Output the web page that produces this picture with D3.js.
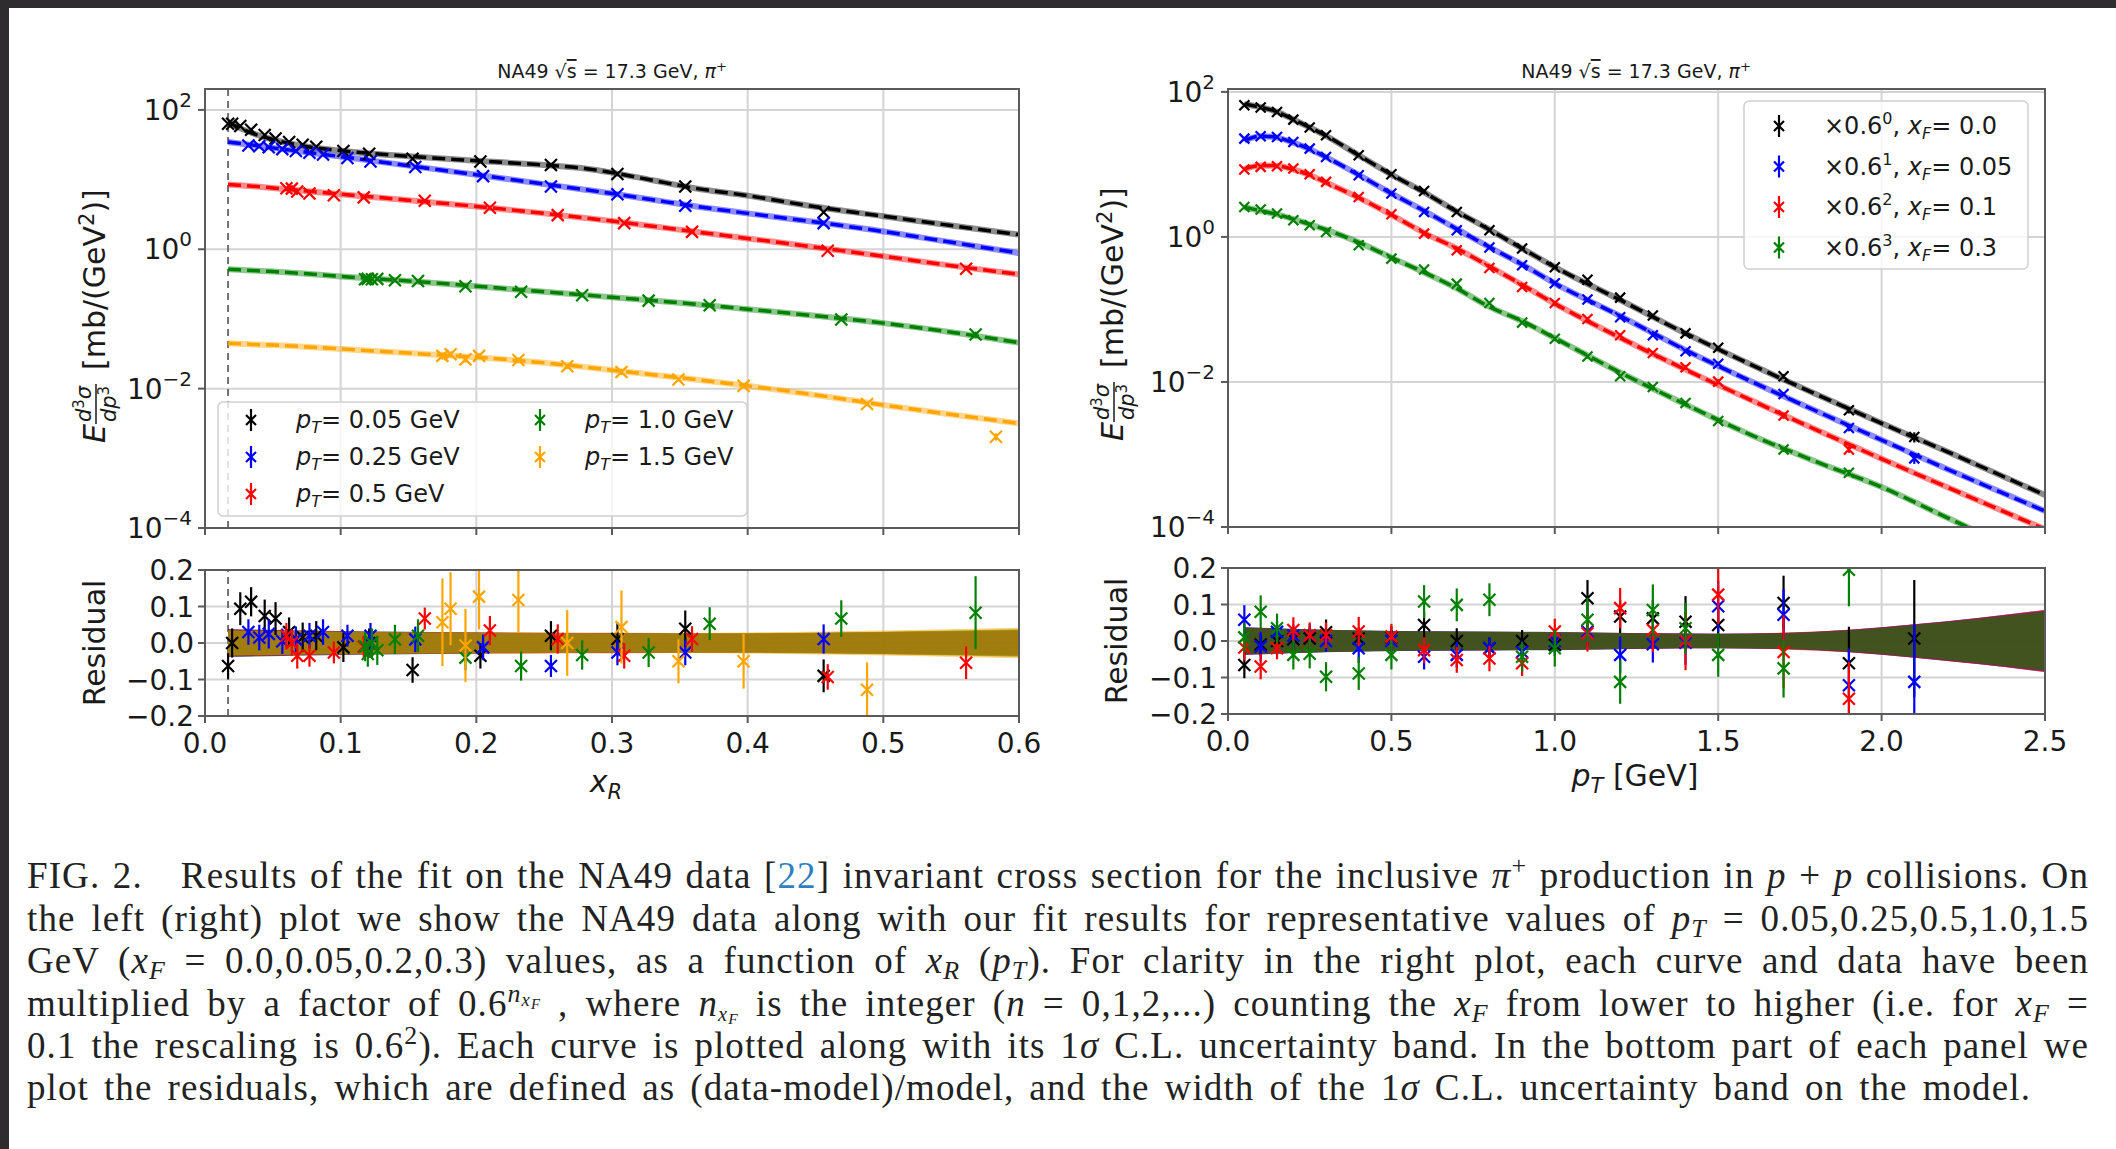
<!DOCTYPE html>
<html>
<head>
<meta charset="utf-8">
<script src="https://cdn.jsdelivr.net/npm/d3@7"></script>
<style>
  body { margin: 0; background: #ffffff; }
  svg { display: block; }
  text { font-family: "DejaVu Sans", sans-serif; fill: #1a1a1a; }
  .caption { font-family: "Liberation Serif", "DejaVu Serif", serif; font-size: 37px; fill: #222; }
</style>
</head>
<body>
<div id="chart"></div>
<script>
// ---------- data ----------

// left panel: cross section vs x_R for fixed pT (values are log10 of E d3sigma/dp3)
const leftPT = ["0.05", "0.25", "0.5", "1.0", "1.5"];
const leftColors = ["#000000", "#0000ff", "#ff0000", "#008000", "#ffa500"];

const xR_pt005 = [0.017, 0.020, 0.026, 0.034, 0.044, 0.052, 0.062, 0.072, 0.082, 0.102, 0.121, 0.153, 0.203, 0.255, 0.304, 0.354, 0.456];
const logE_pt005 = [1.80, 1.80, 1.77, 1.715, 1.64, 1.59, 1.54, 1.50, 1.47, 1.41, 1.37, 1.30, 1.26, 1.21, 1.08, 0.90, 0.53];
const res_pt005 = [-0.063, 0.0, 0.094, 0.113, 0.074, 0.067, 0.03, 0.016, 0.02, -0.012, 0.0, -0.074, -0.035, 0.02, 0.011, 0.039, -0.09];
const err_pt005 = [0.035, 0.04, 0.045, 0.04, 0.045, 0.045, 0.04, 0.04, 0.04, 0.04, 0.04, 0.035, 0.035, 0.04, 0.045, 0.05, 0.045];

const xR_pt025 = [0.032, 0.040, 0.047, 0.057, 0.067, 0.077, 0.087, 0.105, 0.122, 0.155, 0.205, 0.255, 0.304, 0.354, 0.456];
const logE_pt025 = [1.49, 1.478, 1.463, 1.437, 1.41, 1.386, 1.36, 1.31, 1.26, 1.18, 1.05, 0.90, 0.79, 0.625, 0.375];
const res_pt025 = [0.03, 0.015, 0.025, 0.005, 0.01, 0.02, 0.03, 0.02, 0.02, 0.01, -0.012, -0.063, -0.026, -0.026, 0.011];
const err_pt025 = [0.035, 0.035, 0.04, 0.035, 0.035, 0.035, 0.035, 0.03, 0.035, 0.035, 0.035, 0.03, 0.035, 0.035, 0.04];

const xR_pt05 = [0.060, 0.064, 0.068, 0.077, 0.095, 0.117, 0.162, 0.210, 0.260, 0.309, 0.359, 0.459, 0.561];
const logE_pt05 = [0.875, 0.87, 0.83, 0.80, 0.775, 0.745, 0.695, 0.595, 0.49, 0.375, 0.25, -0.02, -0.28];
const res_pt05 = [0.02, 0.0, -0.035, -0.035, -0.026, -0.01, 0.067, 0.034, 0.011, -0.035, 0.011, -0.093, -0.054];
const err_pt05 = [0.035, 0.035, 0.035, 0.03, 0.03, 0.03, 0.03, 0.04, 0.04, 0.035, 0.035, 0.035, 0.045];

const xR_pt10 = [0.118, 0.120, 0.123, 0.127, 0.140, 0.157, 0.192, 0.233, 0.278, 0.327, 0.372, 0.469, 0.568];
const logE_pt10 = [-0.43, -0.425, -0.43, -0.425, -0.445, -0.455, -0.532, -0.609, -0.66, -0.737, -0.803, -1.008, -1.223];
const res_pt10 = [-0.01, -0.03, 0.0, -0.02, 0.01, 0.02, -0.04, -0.063, -0.033, -0.026, 0.053, 0.067, 0.083];
const err_pt10 = [0.04, 0.035, 0.04, 0.04, 0.04, 0.045, 0.035, 0.04, 0.04, 0.04, 0.045, 0.05, 0.1];

const xR_pt15 = [0.175, 0.181, 0.192, 0.202, 0.231, 0.267, 0.307, 0.349, 0.397, 0.488, 0.583];
const logE_pt15 = [-1.53, -1.506, -1.58, -1.53, -1.59, -1.68, -1.76, -1.87, -1.96, -2.22, -2.69];
const res_pt15 = [0.057, 0.094, -0.007, 0.127, 0.118, 0.0, 0.044, -0.05, -0.05, -0.128, null];
const err_pt15 = [0.12, 0.1, 0.1, 0.09, 0.09, 0.09, 0.1, 0.06, 0.075, 0.075, 0.12];

// fitted model curves, left panel
const curveXL = [0.017, 0.025, 0.035, 0.05, 0.07, 0.1, 0.15, 0.2, 0.25, 0.28, 0.3, 0.33, 0.36, 0.4, 0.45, 0.5, 0.55, 0.6];
const curve_pt005 = [1.83, 1.745, 1.665, 1.575, 1.49, 1.415, 1.335, 1.27, 1.21, 1.16, 1.10, 0.99, 0.88, 0.77, 0.61, 0.475, 0.34, 0.21];
const curve_pt025 = [1.54, 1.52, 1.495, 1.455, 1.405, 1.33, 1.20, 1.07, 0.935, 0.855, 0.80, 0.71, 0.62, 0.515, 0.39, 0.255, 0.10, -0.056];
const curve_pt05 = [0.93, 0.92, 0.905, 0.88, 0.845, 0.79, 0.705, 0.615, 0.515, 0.45, 0.405, 0.33, 0.255, 0.155, 0.03, -0.10, -0.235, -0.36];
const curve_pt10 = [-0.287, -0.295, -0.305, -0.32, -0.345, -0.39, -0.455, -0.53, -0.61, -0.655, -0.69, -0.735, -0.785, -0.86, -0.955, -1.06, -1.19, -1.34];
const curve_pt15 = [-1.35, -1.355, -1.365, -1.375, -1.395, -1.43, -1.49, -1.55, -1.63, -1.69, -1.735, -1.80, -1.865, -1.96, -2.09, -2.235, -2.37, -2.50];

// 1 sigma band half widths (relative), left residual panel
const bandXL = [0.017, 0.1, 0.2, 0.3, 0.4, 0.5, 0.6];
const band_pt005 = [0.038, 0.033, 0.029, 0.027, 0.026, 0.03, 0.035];
const band_pt025 = [0.037, 0.031, 0.028, 0.027, 0.025, 0.028, 0.033];
const band_pt05 = [0.037, 0.031, 0.029, 0.028, 0.027, 0.03, 0.035];
const band_pt10 = [0.035, 0.03, 0.028, 0.027, 0.027, 0.031, 0.038];
const band_pt15 = [0.035, 0.031, 0.029, 0.027, 0.029, 0.034, 0.042];

// right panel: cross section vs pT for fixed xF (already scaled by 0.6^n)
const rightXF = ["0.0", "0.05", "0.1", "0.3"];
const rightPow = ["0", "1", "2", "3"];
const rightColors = ["#000000", "#0000ff", "#ff0000", "#008000"];

const pT_grid = [0.05, 0.1, 0.15, 0.2, 0.25, 0.3, 0.4, 0.5, 0.6, 0.7, 0.8, 0.9, 1.0, 1.1, 1.2, 1.3, 1.4, 1.5, 1.7, 1.9, 2.1];

const logE_xf00 = [1.816, 1.784, 1.724, 1.618, 1.508, 1.402, 1.126, 0.864, 0.634, 0.345, 0.092, -0.16, -0.419, -0.591, -0.837, -1.084, -1.33, -1.527, -1.921, -2.389, -2.759];
const res_xf00 = [-0.066, -0.01, 0.0, 0.005, 0.007, 0.024, 0.007, 0.01, 0.044, 0.0, -0.02, 0.0, -0.011, 0.117, 0.067, 0.062, 0.053, 0.044, 0.104, -0.061, 0.007];
const err_xf00 = [0.036, 0.03, 0.03, 0.03, 0.03, 0.035, 0.03, 0.03, 0.035, 0.035, 0.03, 0.03, 0.03, 0.05, 0.045, 0.05, 0.07, 0.06, 0.075, 0.1, 0.16];

const logE_xf005 = [1.356, 1.389, 1.379, 1.31, 1.218, 1.103, 0.851, 0.598, 0.345, 0.092, -0.147, -0.39, -0.64, -0.862, -1.108, -1.355, -1.576, -1.749, -2.167, -2.635, -3.054];
const res_xf005 = [0.058, -0.015, 0.025, 0.015, 0.016, 0.0, -0.02, 0.0, -0.043, -0.038, -0.02, -0.03, 0.0, 0.026, -0.038, -0.009, -0.005, 0.095, 0.072, -0.121, -0.112];
const err_xf005 = [0.04, 0.04, 0.03, 0.03, 0.03, 0.03, 0.04, 0.03, 0.035, 0.035, 0.03, 0.03, 0.03, 0.04, 0.05, 0.05, 0.06, 0.07, 0.07, 0.1, 0.16];

const logE_xf01 = [0.929, 0.966, 0.975, 0.943, 0.864, 0.759, 0.552, 0.313, 0.046, -0.184, -0.428, -0.69, -0.911, -1.133, -1.355, -1.6, -1.798, -1.995, -2.463, -2.931];
const res_xf01 = [-0.018, -0.07, -0.02, 0.03, 0.016, 0.016, 0.026, 0.012, -0.025, -0.052, -0.048, -0.061, 0.026, 0.021, 0.09, 0.03, 0.0, 0.127, -0.03, -0.158];
const err_xf01 = [0.035, 0.035, 0.03, 0.035, 0.035, 0.035, 0.04, 0.035, 0.035, 0.035, 0.035, 0.035, 0.035, 0.05, 0.055, 0.06, 0.08, 0.08, 0.1, 0.1];

const logE_xf03 = [0.414, 0.377, 0.322, 0.23, 0.161, 0.069, -0.115, -0.299, -0.45, -0.644, -0.911, -1.182, -1.404, -1.65, -1.921, -2.069, -2.291, -2.537, -2.931, -3.251];
const res_xf03 = [0.01, 0.08, 0.035, -0.038, -0.035, -0.098, -0.089, -0.038, 0.108, 0.099, 0.113, -0.043, -0.02, 0.058, -0.112, 0.085, 0.035, -0.038, -0.075, 0.195];
const err_xf03 = [0.04, 0.045, 0.04, 0.04, 0.04, 0.04, 0.045, 0.04, 0.045, 0.045, 0.045, 0.04, 0.05, 0.06, 0.06, 0.07, 0.07, 0.06, 0.08, 0.1];

// fitted model curves, right panel
const curveXR = [0.05, 0.1, 0.15, 0.2, 0.25, 0.3, 0.4, 0.5, 0.6, 0.7, 0.8, 0.9, 1.0, 1.2, 1.4, 1.6, 1.8, 2.0, 2.2, 2.5];
const curve_xf00 = [1.83, 1.79, 1.725, 1.62, 1.51, 1.395, 1.125, 0.86, 0.615, 0.35, 0.10, -0.16, -0.415, -0.87, -1.33, -1.76, -2.17, -2.57, -2.96, -3.56];
const curve_xf005 = [1.33, 1.39, 1.37, 1.30, 1.21, 1.10, 0.855, 0.60, 0.36, 0.11, -0.14, -0.38, -0.64, -1.09, -1.56, -1.99, -2.40, -2.80, -3.20, -3.78];
const curve_xf01 = [0.935, 0.985, 0.98, 0.93, 0.855, 0.75, 0.54, 0.305, 0.057, -0.16, -0.405, -0.66, -0.92, -1.39, -1.83, -2.25, -2.66, -3.06, -3.45, -4.03];
const curve_xf03 = [0.41, 0.36, 0.31, 0.245, 0.175, 0.10, -0.075, -0.285, -0.49, -0.71, -0.965, -1.16, -1.395, -1.87, -2.31, -2.73, -3.10, -3.45, -3.87, -4.5];

// 1 sigma band half widths (relative), right residual panel
const bandXR = [0.05, 0.3, 0.6, 1.0, 1.3, 1.5, 1.7, 1.9, 2.1, 2.3, 2.5];
const band_xf00 = [0.038, 0.031, 0.027, 0.025, 0.021, 0.02, 0.022, 0.03, 0.045, 0.063, 0.083];
const band_xf005 = [0.038, 0.03, 0.027, 0.024, 0.021, 0.02, 0.022, 0.031, 0.046, 0.064, 0.085];
const band_xf01 = [0.037, 0.03, 0.026, 0.024, 0.021, 0.02, 0.023, 0.031, 0.046, 0.064, 0.085];
const band_xf03 = [0.036, 0.03, 0.026, 0.024, 0.02, 0.019, 0.021, 0.029, 0.044, 0.061, 0.081];

// axis ticks
const leftXTicks = [0.0, 0.1, 0.2, 0.3, 0.4, 0.5, 0.6];
const rightXTicks = [0.0, 0.5, 1.0, 1.5, 2.0, 2.5];
const mainYTicks = [1e-4, 1e-2, 1, 1e2];
const mainYExp = ["\u22124", "\u22122", "0", "2"];
const resYTicks = [-0.2, -0.1, 0.0, 0.1, 0.2];
const cutXR = 0.017; // dashed vertical line in the left panels

// ---------- drawing ----------
const W = 2116, H = 1149;

const leftSeries = [
  { x: xR_pt005, logE: logE_pt005, res: res_pt005, err: err_pt005, curve: curve_pt005, band: band_pt005 },
  { x: xR_pt025, logE: logE_pt025, res: res_pt025, err: err_pt025, curve: curve_pt025, band: band_pt025 },
  { x: xR_pt05, logE: logE_pt05, res: res_pt05, err: err_pt05, curve: curve_pt05, band: band_pt05 },
  { x: xR_pt10, logE: logE_pt10, res: res_pt10, err: err_pt10, curve: curve_pt10, band: band_pt10 },
  { x: xR_pt15, logE: logE_pt15, res: res_pt15, err: err_pt15, curve: curve_pt15, band: band_pt15 }
];
const rightSeries = [
  { x: pT_grid, logE: logE_xf00, res: res_xf00, err: err_xf00, curve: curve_xf00, band: band_xf00 },
  { x: pT_grid, logE: logE_xf005, res: res_xf005, err: err_xf005, curve: curve_xf005, band: band_xf005 },
  { x: pT_grid.slice(0, 20), logE: logE_xf01, res: res_xf01, err: err_xf01, curve: curve_xf01, band: band_xf01 },
  { x: pT_grid.slice(0, 20), logE: logE_xf03, res: res_xf03, err: err_xf03, curve: curve_xf03, band: band_xf03 }
];

const svg = d3.select("#chart").append("svg").attr("width", W).attr("height", H);
svg.append("rect").attr("width", W).attr("height", H).attr("fill", "#ffffff");

// dark screenshot frame
svg.append("rect").attr("x", 0).attr("y", 0).attr("width", W).attr("height", 8).attr("fill", "#2e2c2e");
svg.append("rect").attr("x", 0).attr("y", 0).attr("width", 9).attr("height", H).attr("fill", "#2e2c2e");

// scales
const xLeft = d3.scaleLinear().domain([0, 0.6]).range([205, 1019]);
const yLeftMain = d3.scaleLog().domain([1e-4, Math.pow(10, 2.3)]).range([528, 89]);
const yLeftRes = d3.scaleLinear().domain([-0.2, 0.2]).range([716, 570]);
const xRight = d3.scaleLinear().domain([0, 2.5]).range([1228, 2045]);
const yRightMain = d3.scaleLog().domain([1e-4, Math.pow(10, 2.04)]).range([527, 89]);
const yRightRes = d3.scaleLinear().domain([-0.2, 0.2]).range([714, 568]);

const defs = svg.append("defs");
let clipCount = 0;
function clipFor(xs, ys) {
  const id = "clip" + (clipCount++);
  defs.append("clipPath").attr("id", id).append("rect")
    .attr("x", xs.range()[0]).attr("y", ys.range()[1])
    .attr("width", xs.range()[1] - xs.range()[0])
    .attr("height", ys.range()[0] - ys.range()[1]);
  return `url(#${id})`;
}

function drawGrid(g, xs, ys, xTicks, yTicks) {
  const grid = g.append("g").attr("stroke", "#d4d4d4").attr("stroke-width", 2);
  grid.selectAll(".gx").data(xTicks).enter().append("line")
    .attr("x1", d => xs(d)).attr("x2", d => xs(d))
    .attr("y1", ys.range()[0]).attr("y2", ys.range()[1]);
  grid.selectAll(".gy").data(yTicks).enter().append("line")
    .attr("x1", xs.range()[0]).attr("x2", xs.range()[1])
    .attr("y1", d => ys(d)).attr("y2", d => ys(d));
}

function drawSpines(g, xs, ys, xTicks, yTicks) {
  const x0 = xs.range()[0], x1 = xs.range()[1];
  const yb = ys.range()[0], yt = ys.range()[1];
  g.append("rect").attr("x", x0).attr("y", yt).attr("width", x1 - x0).attr("height", yb - yt)
    .attr("fill", "none").attr("stroke", "#5a5a5a").attr("stroke-width", 2);
  const ticks = g.append("g").attr("stroke", "#5a5a5a").attr("stroke-width", 2);
  ticks.selectAll(".tx").data(xTicks).enter().append("line")
    .attr("x1", d => xs(d)).attr("x2", d => xs(d)).attr("y1", yb).attr("y2", yb + 7);
  ticks.selectAll(".ty").data(yTicks).enter().append("line")
    .attr("x1", x0 - 7).attr("x2", x0).attr("y1", d => ys(d)).attr("y2", d => ys(d));
}

function mainYLabels(g, xs, ys) {
  const t = g.selectAll(".ylab").data(mainYTicks).enter().append("text")
    .attr("x", xs.range()[0] - 13).attr("y", d => ys(d) + 10)
    .attr("text-anchor", "end").style("font-size", "28px");
  t.append("tspan").text("10");
  t.append("tspan").attr("dy", -13).style("font-size", "20px").text((d, i) => mainYExp[i]);
}

function resLabels(g, xs, ys, xTicks) {
  g.selectAll(".rylab").data(resYTicks).enter().append("text")
    .attr("x", xs.range()[0] - 11).attr("y", d => ys(d) + 10)
    .attr("text-anchor", "end").style("font-size", "28px")
    .text(d => (d < 0 ? "\u2212" : "") + Math.abs(d).toFixed(1));
  g.selectAll(".rxlab").data(xTicks).enter().append("text")
    .attr("x", d => xs(d)).attr("y", ys.range()[0] + 37)
    .attr("text-anchor", "middle").style("font-size", "28px")
    .text(d => d.toFixed(1));
}

const smooth = d3.line().curve(d3.curveMonotoneX);

function drawCurve(g, xArr, logArr, color, xs, ys) {
  const pts = xArr.map((x, i) => [xs(x), ys(Math.pow(10, logArr[i]))]);
  g.append("path").attr("d", smooth(pts)).attr("fill", "none")
    .attr("stroke", color).attr("stroke-opacity", 0.45).attr("stroke-width", 6);
  g.append("path").attr("d", smooth(pts)).attr("fill", "none")
    .attr("stroke", color).attr("stroke-width", 3.5).attr("stroke-dasharray", "13,6");
}

function xMarker(s) {
  return `M${-s},${-s}L${s},${s}M${-s},${s}L${s},${-s}`;
}

// points with vertical error bars; vals are in plot units
function drawPoints(g, xArr, vals, lows, highs, color, xs, ys, size) {
  const pts = xArr.map((x, i) => ({ x, v: vals[i], lo: lows[i], hi: highs[i] }))
    .filter(d => d.v !== null);
  const pg = g.append("g").attr("stroke", color).attr("stroke-width", 2.2).attr("fill", "none");
  pg.selectAll(".eb").data(pts).enter().append("line")
    .attr("x1", d => xs(d.x)).attr("x2", d => xs(d.x))
    .attr("y1", d => ys(d.lo)).attr("y2", d => ys(d.hi));
  pg.selectAll(".mk").data(pts).enter().append("path")
    .attr("transform", d => `translate(${xs(d.x)},${ys(d.v)})`)
    .attr("d", xMarker(size));
}

function drawMainPoints(g, s, color, xs, ys, size) {
  const vals = s.logE.map(v => Math.pow(10, v));
  drawPoints(g, s.x, vals, vals.map((v, i) => v * (1 - s.err[i])), vals.map((v, i) => v * (1 + s.err[i])), color, xs, ys, size);
}

function drawResPoints(g, s, color, xs, ys, size) {
  drawPoints(g, s.x, s.res, s.res.map((v, i) => v === null ? null : v - s.err[i]),
    s.res.map((v, i) => v === null ? null : v + s.err[i]), color, xs, ys, size);
}

function drawBand(g, bx, half, color, xs, ys, opacity) {
  const area = d3.area().curve(d3.curveMonotoneX)
    .x((d, i) => xs(bx[i])).y0(d => ys(-d)).y1(d => ys(d));
  g.append("path").attr("d", area(half)).attr("fill", color).attr("fill-opacity", opacity);
}

function title(g, cx) {
  const t = g.append("text").attr("x", cx).attr("y", 78).attr("text-anchor", "middle").style("font-size", "19px");
  t.append("tspan").text("NA49 \u221A");
  t.append("tspan").style("text-decoration", "overline").text("s");
  t.append("tspan").text(" = 17.3 GeV, ");
  t.append("tspan").style("font-style", "italic").text("\u03C0");
  t.append("tspan").attr("dy", -7).style("font-size", "13px").text("+");
}

function mainYLabel(g, cx, cy) {
  const lab = g.append("g").attr("transform", `translate(${cx},${cy}) rotate(-90)`);
  lab.append("text").attr("x", -133).attr("y", 0).style("font-size", "30px").style("font-style", "italic").text("E");
  const num = lab.append("text").attr("x", -94).attr("y", -14).attr("text-anchor", "middle")
    .style("font-size", "21px").style("font-style", "italic");
  num.append("tspan").text("d");
  num.append("tspan").attr("dy", -7).style("font-size", "15px").style("font-style", "normal").text("3");
  num.append("tspan").attr("dy", 7).text("\u03C3");
  lab.append("line").attr("x1", -114).attr("x2", -74).attr("y1", -9).attr("y2", -9)
    .attr("stroke", "#1a1a1a").attr("stroke-width", 1.5);
  const den = lab.append("text").attr("x", -94).attr("y", 11).attr("text-anchor", "middle")
    .style("font-size", "21px").style("font-style", "italic");
  den.append("tspan").text("dp");
  den.append("tspan").attr("dy", -7).style("font-size", "15px").style("font-style", "normal").text("3");
  const unit = lab.append("text").attr("x", -60).attr("y", 0).style("font-size", "30px");
  unit.append("tspan").text("[mb/(GeV");
  unit.append("tspan").attr("dy", -11).style("font-size", "21px").text("2");
  unit.append("tspan").attr("dy", 11).text(")]");
}

function residualLabel(g, cx, cy) {
  g.append("text").attr("transform", `translate(${cx},${cy}) rotate(-90)`)
    .attr("text-anchor", "middle").style("font-size", "30px").text("Residual");
}

function legendMarker(g, x, y, color) {
  const m = g.append("g").attr("stroke", color).attr("stroke-width", 2.2).attr("fill", "none");
  m.append("line").attr("x1", x).attr("x2", x).attr("y1", y - 11).attr("y2", y + 11);
  m.append("path").attr("transform", `translate(${x},${y})`).attr("d", xMarker(5));
}

// ===== LEFT PANEL =====
const L = svg.append("g");
drawGrid(L, xLeft, yLeftMain, leftXTicks, mainYTicks);
drawGrid(L, xLeft, yLeftRes, leftXTicks, resYTicks);

const clipLM = clipFor(xLeft, yLeftMain);
const clipLR = clipFor(xLeft, yLeftRes);

// cut line
[yLeftMain, yLeftRes].forEach(ys => {
  L.append("line").attr("x1", xLeft(cutXR)).attr("x2", xLeft(cutXR))
    .attr("y1", ys.range()[0]).attr("y2", ys.range()[1])
    .attr("stroke", "#707070").attr("stroke-width", 2).attr("stroke-dasharray", "7,5");
});

const LM = L.append("g").attr("clip-path", clipLM);
leftSeries.forEach((s, i) => drawCurve(LM, curveXL, s.curve, leftColors[i], xLeft, yLeftMain));
leftSeries.forEach((s, i) => drawMainPoints(LM, s, leftColors[i], xLeft, yLeftMain, 6));

const LR = L.append("g").attr("clip-path", clipLR);
const leftBandOpacity = [0.62, 0.62, 0.62, 0.62, 0.5];
leftSeries.forEach((s, i) => drawBand(LR, bandXL, s.band, leftColors[i], xLeft, yLeftRes, leftBandOpacity[i]));
leftSeries.forEach((s, i) => drawResPoints(LR, s, leftColors[i], xLeft, yLeftRes, 6));

drawSpines(L, xLeft, yLeftMain, leftXTicks, mainYTicks);
drawSpines(L, xLeft, yLeftRes, leftXTicks, resYTicks);
mainYLabels(L, xLeft, yLeftMain);
resLabels(L, xLeft, yLeftRes, leftXTicks);
title(L, 612);
mainYLabel(L, 105, 310);
residualLabel(L, 105, 643);

const xlabL = L.append("text").attr("x", 606).attr("y", 792).attr("text-anchor", "middle").style("font-size", "30px");
xlabL.append("tspan").style("font-style", "italic").text("x");
xlabL.append("tspan").attr("dy", 7).style("font-size", "21px").style("font-style", "italic").text("R");

// left legend
const legL = L.append("g");
legL.append("rect").attr("x", 218).attr("y", 402).attr("width", 529).attr("height", 114).attr("rx", 5)
  .attr("fill", "#ffffff").attr("fill-opacity", 0.8).attr("stroke", "#d0d0d0").attr("stroke-width", 1.5);
const legLPos = [[251, 420], [251, 457], [251, 494], [540, 420], [540, 457]];
leftPT.forEach((p, i) => {
  const [mx, my] = legLPos[i];
  legendMarker(legL, mx, my, leftColors[i]);
  const t = legL.append("text").attr("x", mx + 45).attr("y", my + 8).style("font-size", "24px");
  t.append("tspan").style("font-style", "italic").text("p");
  t.append("tspan").attr("dy", 5).style("font-size", "16px").style("font-style", "italic").text("T");
  t.append("tspan").attr("dy", -5).text("= " + p + " GeV");
});

// ===== RIGHT PANEL =====
const R = svg.append("g");
drawGrid(R, xRight, yRightMain, rightXTicks, mainYTicks);
drawGrid(R, xRight, yRightRes, rightXTicks, resYTicks);
const clipRM = clipFor(xRight, yRightMain);
const clipRR = clipFor(xRight, yRightRes);

const RM = R.append("g").attr("clip-path", clipRM);
rightSeries.forEach((s, i) => drawCurve(RM, curveXR, s.curve, rightColors[i], xRight, yRightMain));
rightSeries.forEach((s, i) => drawMainPoints(RM, s, rightColors[i], xRight, yRightMain, 5));

const RR = R.append("g").attr("clip-path", clipRR);
rightSeries.forEach((s, i) => drawBand(RR, bandXR, s.band, rightColors[i], xRight, yRightRes, 0.6));
rightSeries.forEach((s, i) => drawResPoints(RR, s, rightColors[i], xRight, yRightRes, 6));

drawSpines(R, xRight, yRightMain, rightXTicks, mainYTicks);
drawSpines(R, xRight, yRightRes, rightXTicks, resYTicks);
mainYLabels(R, xRight, yRightMain);
resLabels(R, xRight, yRightRes, rightXTicks);
title(R, 1636);
mainYLabel(R, 1123, 308);
residualLabel(R, 1127, 641);

const xlabR = R.append("text").attr("x", 1635).attr("y", 786).attr("text-anchor", "middle").style("font-size", "30px");
xlabR.append("tspan").style("font-style", "italic").text("p");
xlabR.append("tspan").attr("dy", 7).style("font-size", "21px").style("font-style", "italic").text("T");
xlabR.append("tspan").attr("dy", -7).text(" [GeV]");

// right legend
const legR = R.append("g");
legR.append("rect").attr("x", 1744).attr("y", 101).attr("width", 284).attr("height", 168).attr("rx", 5)
  .attr("fill", "#ffffff").attr("fill-opacity", 0.8).attr("stroke", "#d0d0d0").attr("stroke-width", 1.5);
rightXF.forEach((xf, i) => {
  const my = 126 + i * 40.5;
  legendMarker(legR, 1779, my, rightColors[i]);
  const t = legR.append("text").attr("x", 1824).attr("y", my + 8).style("font-size", "24px");
  t.append("tspan").text("\u00D70.6");
  t.append("tspan").attr("dy", -10).style("font-size", "16px").text(rightPow[i]);
  t.append("tspan").attr("dy", 10).text(", ");
  t.append("tspan").style("font-style", "italic").text("x");
  t.append("tspan").attr("dy", 5).style("font-size", "16px").style("font-style", "italic").text("F");
  t.append("tspan").attr("dy", -5).text("= " + xf);
});

// ===== CAPTION =====
// segment: [text, italic, size factor, baseline offset, colour]
const N = t => [t, false, 1, 0, null];
const I = t => [t, true, 1, 0, null];
const SUP = (t, it) => [t, it, 0.7, -14, null];
const SUB = t => [t, true, 0.7, 6, null];
const captionLines = [
  [N("FIG. 2.\u2003Results of the fit on the NA49 data ["), ["22", false, 1, 0, "#2f7fc1"], N("] invariant cross section for the inclusive "),
   I("\u03C0"), SUP("+", false), N(" production in "), I("p"), N(" + "), I("p"), N(" collisions. On")],
  [N("the left (right) plot we show the NA49 data along with our fit results for representative values of "), I("p"), SUB("T"),
   N(" = 0.05,0.25,0.5,1.0,1.5")],
  [N("GeV ("), I("x"), SUB("F"), N(" = 0.0,0.05,0.2,0.3) values, as a function of "), I("x"), SUB("R"), N(" ("), I("p"), SUB("T"),
   N("). For clarity in the right plot, each curve and data have been")],
  [N("multiplied by a factor of 0.6"), SUP("n", true), ["x", true, 0.5, -10, null], ["F", true, 0.4, -7, null], N(" , where "), I("n"),
   ["x", true, 0.55, 5, null], ["F", true, 0.42, 8, null], N(" is the integer ("), I("n"), N(" = 0,1,2,...) counting the "), I("x"), SUB("F"),
   N(" from lower to higher (i.e. for "), I("x"), SUB("F"), N(" =")],
  [N("0.1 the rescaling is 0.6"), SUP("2", false), N("). Each curve is plotted along with its 1"), I("\u03C3"),
   N(" C.L. uncertainty band. In the bottom part of each panel we")],
  [N("plot the residuals, which are defined as (data-model)/model, and the width of the 1"), I("\u03C3"),
   N(" C.L. uncertainty band on the model.")]
];
const captionBase = [888, 931, 973, 1016, 1058, 1100];
const captionWidth = [2062, 2062, 2062, 2062, 2062, 2004];

const captionTexts = captionLines.map((segs, li) => {
  const t = svg.append("text").attr("class", "caption")
    .attr("x", 27).attr("y", captionBase[li]);
  let cur = 0;
  segs.forEach(([txt, it, sz, off, col]) => {
    const sp = t.append("tspan").attr("dy", off - cur).text(txt);
    cur = off;
    if (it) sp.style("font-style", "italic");
    if (sz !== 1) sp.style("font-size", (37 * sz) + "px");
    if (col) sp.style("fill", col);
  });
  return t;
});

// a little extra letter spacing (set from the last line), then the word gaps fill each line exactly
const lastIdx = captionLines.length - 1;
const lastText = captionLines[lastIdx].map(s => s[0]).join("");
const letterGap = 0.6 * (captionWidth[lastIdx] - captionTexts[lastIdx].node().getComputedTextLength()) / lastText.length;
captionTexts.forEach((t, li) => {
  t.style("letter-spacing", letterGap + "px");
  const str = captionLines[li].map(s => s[0]).join("");
  const natural = t.node().getComputedTextLength();
  const spaces = str.split(" ").length - 1;
  t.style("word-spacing", ((captionWidth[li] - natural) / spaces) + "px");
});
</script>
</body>
</html>
